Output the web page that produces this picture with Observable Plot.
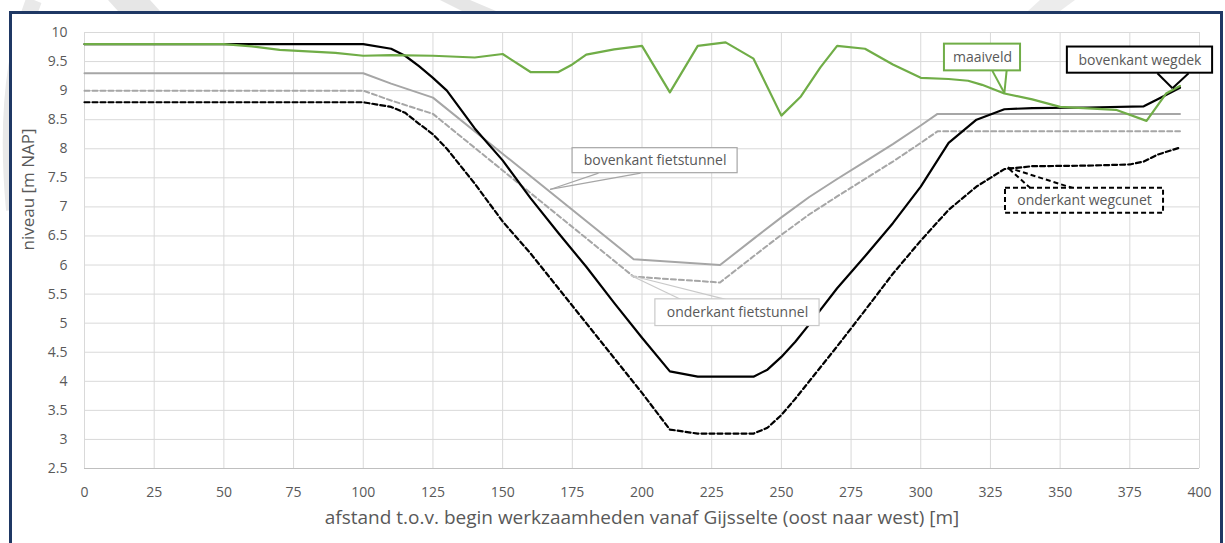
<!DOCTYPE html>
<html><head><meta charset="utf-8">
<script src="https://cdn.jsdelivr.net/npm/d3@7"></script>
<script src="https://cdn.jsdelivr.net/npm/@observablehq/plot@0.6"></script>
<style>
body{margin:0;background:#fff;}
#wrap{position:relative;width:1225px;height:543px;overflow:hidden;background:#fff;font-family:"Open Sans",sans-serif;}
#wm{position:absolute;left:0;top:0;}
#frame{position:absolute;left:9px;top:11px;width:1208px;height:600px;border:3px solid #1f3864;background:#fff;}
#chart{position:absolute;left:0;top:0;}
</style></head><body>
<div id="wrap">
<svg id="wm" width="1225" height="543">
  <path d="M 34 0 Q 2 80 14 210" fill="none" stroke="#e9e9e9" stroke-width="16"/>
  <polygon points="108,0 150,0 160,11 118,11" fill="#e6e6e6"/>
  <polygon points="440,0 470,0 496,11 462,11" fill="#e6e6e6"/>
  <polygon points="1040,0 1075,0 1060,11 1028,11" fill="#ececec"/>
</svg>
<div id="frame"></div>
<div id="chart"></div>
</div>
<script>
// ---- data ----
const xTicks = [0,25,50,75,100,125,150,175,200,225,250,275,300,325,350,375,400];
const yTicks = [2.5,3,3.5,4,4.5,5,5.5,6,6.5,7,7.5,8,8.5,9,9.5,10];

const maaiveldDist  = [0,50,60,70,90,100,110,125,140,150,160,170,175,180,190,200,210,220,230,240,250,257,264,270,280,290,300,310,317,322,330,340,350,370,381,388,393];
const maaiveldLevel = [9.8,9.8,9.76,9.7,9.65,9.6,9.61,9.6,9.57,9.63,9.32,9.32,9.45,9.62,9.71,9.77,8.97,9.77,9.83,9.55,8.57,8.9,9.4,9.77,9.72,9.45,9.22,9.2,9.17,9.1,8.95,8.85,8.72,8.67,8.48,8.95,9.08];

const wegdekDist  = [0,100,110,115,120,125,130,140,150,160,170,180,190,200,210,220,240,245,250,255,260,270,280,290,300,310,320,330,340,360,380,385,393];
const wegdekLevel = [9.8,9.8,9.72,9.6,9.42,9.22,9.0,8.35,7.8,7.15,6.55,5.97,5.35,4.75,4.17,4.08,4.08,4.2,4.42,4.68,4.98,5.6,6.15,6.72,7.35,8.1,8.5,8.68,8.7,8.71,8.73,8.85,9.05];

const cunetDist  = [0,100,110,115,120,125,130,140,150,160,170,180,190,200,210,220,240,245,250,255,260,270,280,290,300,310,320,330,340,360,375,380,385,393];
const cunetLevel = [8.8,8.8,8.72,8.62,8.43,8.25,8.0,7.4,6.75,6.2,5.6,5.0,4.4,3.8,3.17,3.1,3.1,3.2,3.42,3.7,4.0,4.6,5.22,5.85,6.42,6.95,7.35,7.65,7.7,7.71,7.73,7.78,7.9,8.02];

const tunnelTopDist  = [0,100,110,125,197,228,240,250,260,270,280,290,300,306,393];
const tunnelTopLevel = [9.3,9.3,9.12,8.88,6.1,6.0,6.45,6.82,7.17,7.48,7.78,8.08,8.4,8.6,8.6];

const tunnelBotDist  = [0,100,110,125,197,228,240,250,260,270,280,290,300,306,393];
const tunnelBotLevel = [9.0,9.0,8.83,8.6,5.8,5.7,6.15,6.52,6.87,7.18,7.48,7.78,8.1,8.3,8.3];

const labels = ["bovenkant fietstunnel","onderkant fietstunnel","maaiveld","bovenkant wegdek","onderkant wegcunet"];

// ---- callout layout (data units) ----
const callouts = [
  {label:labels[0], x1:175.1, x2:234.3, y1:7.58, y2:8.01, bx1:184.4, bx2:199.5, by:7.58, tx:167, ty:7.3,  stroke:"#a6a6a6", width:1.2, dash:null},
  {label:labels[1], x1:204.8, x2:263.7, y1:4.95, y2:5.41, bx1:213.8, bx2:230,   by:5.41, tx:196, ty:5.82, stroke:"#c9c9c9", width:1.2, dash:null},
  {label:labels[2], x1:308.5, x2:335.8, y1:9.34, y2:9.80, bx1:325.7, bx2:330.8, by:9.34, tx:330, ty:8.96, stroke:"#70ad47", width:2, dash:null},
  {label:labels[3], x1:352.6, x2:404.7, y1:9.30, y2:9.75, bx1:384.9, bx2:396.1, by:9.30, tx:390.3, ty:9.04, stroke:"#000000", width:2, dash:null},
  {label:labels[4], x1:330.4, x2:387.1, y1:6.89, y2:7.32, bx1:339.4, bx2:354.8, by:7.32, tx:331.1, ty:7.68, stroke:"#000000", width:2, dash:"5,3"}
];

const rows = (d, l) => d.map((x, i) => ({x, y: l[i]}));

const calloutMarks = [];
for (const c of callouts) {
  const ptr = [{x1:c.bx1, y1:c.by, x2:c.tx, y2:c.ty}, {x1:c.bx2, y1:c.by, x2:c.tx, y2:c.ty}];
  calloutMarks.push(Plot.link(ptr, {x1:"x1", y1:"y1", x2:"x2", y2:"y2", stroke:c.stroke, strokeWidth:c.width, strokeDasharray:c.dash}));
}
for (const c of callouts) {
  calloutMarks.push(Plot.rect([c], {x1:"x1", x2:"x2", y1:"y1", y2:"y2", fill:"white", stroke:c.stroke, strokeWidth:c.width, strokeDasharray:c.dash}));
  calloutMarks.push(Plot.text([c], {x:d => (d.x1 + d.x2) / 2, y:d => (d.y1 + d.y2) / 2, text:"label", fill:"#595959", fontSize:14}));
}

const chart = Plot.plot({
  width:1225, height:543,
  marginLeft:84, marginRight:26, marginTop:32, marginBottom:75,
  x:{domain:[0,400]},
  y:{domain:[2.5,10]},
  style:{fontFamily:"'Open Sans', sans-serif", fontSize:"14px", color:"#595959", background:"transparent", overflow:"visible"},
  marks:[
    Plot.gridX(xTicks, {stroke:"#d9d9d9", strokeOpacity:1, strokeWidth:1}),
    Plot.gridY(yTicks, {stroke:"#d9d9d9", strokeOpacity:1, strokeWidth:1}),
    Plot.ruleY([2.5], {stroke:"#bfbfbf", strokeWidth:1.2}),
    Plot.axisX(xTicks, {tickSize:0, tickPadding:19, label:null, fill:"#595959", fontSize:14}),
    Plot.axisY(yTicks, {tickSize:0, tickPadding:17, tickFormat:d => String(d), label:null, fill:"#595959", fontSize:14}),
    Plot.text(["afstand t.o.v. begin werkzaamheden vanaf Gijsselte (oost naar west) [m]"], {frameAnchor:"bottom", dy:55, fontSize:19, fill:"#595959"}),
    Plot.text(["niveau [m NAP]"], {frameAnchor:"left", dx:-56, rotate:-90, fontSize:17, fill:"#595959"}),
    Plot.line(rows(tunnelBotDist, tunnelBotLevel), {x:"x", y:"y", stroke:"#a6a6a6", strokeWidth:2, strokeDasharray:"5,3"}),
    Plot.line(rows(tunnelTopDist, tunnelTopLevel), {x:"x", y:"y", stroke:"#a6a6a6", strokeWidth:2}),
    Plot.line(rows(cunetDist, cunetLevel), {x:"x", y:"y", stroke:"#000", strokeWidth:2.2, strokeDasharray:"5,3"}),
    Plot.line(rows(wegdekDist, wegdekLevel), {x:"x", y:"y", stroke:"#000", strokeWidth:2.2}),
    Plot.line(rows(maaiveldDist, maaiveldLevel), {x:"x", y:"y", stroke:"#70ad47", strokeWidth:2.2}),
    ...calloutMarks
  ]
});
document.getElementById("chart").appendChild(chart);
</script>
</body></html>
